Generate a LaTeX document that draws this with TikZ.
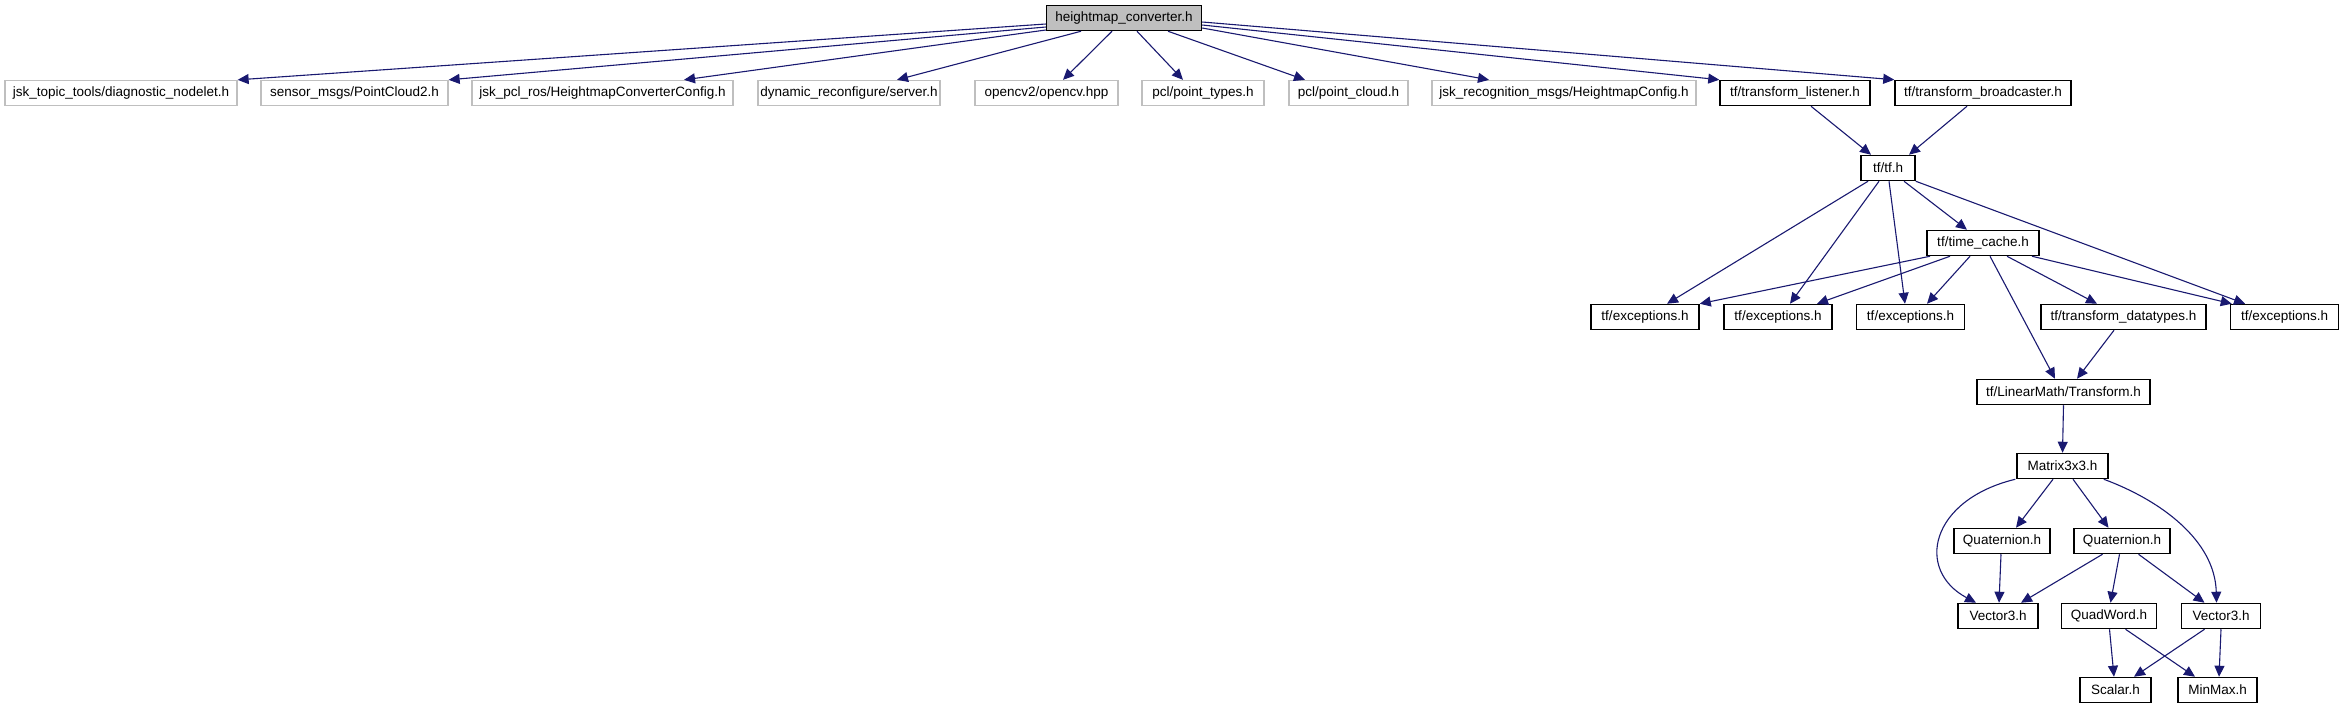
\documentclass[tikz,border=0pt]{standalone}
\usepackage{fontspec}
\setmainfont{Liberation Sans}
\usetikzlibrary{arrows.meta}
\definecolor{edgec}{HTML}{191970}
\definecolor{extc}{HTML}{BFBFBF}
\definecolor{rootfill}{HTML}{BFBFBF}
\begin{document}
\begin{tikzpicture}[x=1pt,y=-1pt,
  box/.style={draw=black, line width=1.5pt, minimum height=25pt, inner sep=0pt,
    font=\fontsize{13.5}{16}\selectfont, anchor=center},
  ext/.style={box, draw=extc, line width=1.3pt},
  rootbox/.style={box, fill=rootfill},
  edge/.style={draw=edgec, line width=1.1pt, -{Triangle[length=11pt,width=10pt]}}]
\useasboundingbox (0,0) rectangle (2340,709);
% row 0
\node[rootbox, minimum width=155pt] (root) at (1124,18) {heightmap\_converter.h};
% row 1
\node[ext, minimum width=232pt] (diag) at (121,93) {jsk\_topic\_tools/diagnostic\_nodelet.h};
\node[ext, minimum width=187pt] (sensor) at (354.5,93) {sensor\_msgs/PointCloud2.h};
\node[ext, minimum width=261pt] (hmcc) at (602.5,93) {jsk\_pcl\_ros/HeightmapConverterConfig.h};
\node[ext, minimum width=182pt] (dyn) at (849,93) {dynamic\_reconfigure/server.h};
\node[ext, minimum width=143pt] (opencv) at (1046.5,93) {opencv2/opencv.hpp};
\node[ext, minimum width=122pt] (ptypes) at (1203,93) {pcl/point\_types.h};
\node[ext, minimum width=119pt] (pcloud) at (1348.5,93) {pcl/point\_cloud.h};
\node[ext, minimum width=264pt] (hmc) at (1564,93) {jsk\_recognition\_msgs/HeightmapConfig.h};
\node[box, minimum width=150pt] (listener) at (1795,93) {tf/transform\_listener.h};
\node[box, minimum width=176pt] (bcast) at (1983,93) {tf/transform\_broadcaster.h};
% row 2
\node[box, minimum width=54pt] (tfh) at (1888,168) {tf/tf.h};
% row 3
\node[box, minimum width=112pt] (tc) at (1983,243) {tf/time\_cache.h};
% row 4
\node[box, minimum width=108pt] (exa) at (1645,317) {tf/exceptions.h};
\node[box, minimum width=108pt] (exb) at (1778,317) {tf/exceptions.h};
\node[box, minimum width=108pt] (exc) at (1910.5,317) {tf/exceptions.h};
\node[box, minimum width=165pt] (tdt) at (2123.5,317) {tf/transform\_datatypes.h};
\node[box, minimum width=108pt] (exd) at (2284.5,317) {tf/exceptions.h};
% row 5
\node[box, minimum width=173pt] (trf) at (2063.5,392) {tf/LinearMath/Transform.h};
% row 6
\node[box, minimum width=91pt] (mat) at (2062.5,466) {Matrix3x3.h};
% row 7
\node[box, minimum width=96pt] (qa) at (2002,541) {Quaternion.h};
\node[box, minimum width=96pt] (qb) at (2122,541) {Quaternion.h};
% row 8
\node[box, minimum width=80pt] (va) at (1998,616) {Vector3.h};
\node[box, minimum width=95pt] (qw) at (2109,616) {QuadWord.h};
\node[box, minimum width=79pt] (vb) at (2221,616) {Vector3.h};
% row 9
\node[box, minimum width=71pt] (sc) at (2115.5,690) {Scalar.h};
\node[box, minimum width=79pt] (mm) at (2217.5,690) {MinMax.h};

% edges from root
\draw[edge] ([yshift=-6pt]root.west) -- (diag.north east);
\draw[edge] ([yshift=-9pt]root.west) -- (sensor.north east);
\draw[edge] ([yshift=-12pt]root.west) -- ([xshift=81.5pt]hmcc.north);
\draw[edge] ([xshift=-43pt]root.south) -- ([xshift=48pt]dyn.north);
\draw[edge] ([xshift=-12pt]root.south) -- ([xshift=16.5pt]opencv.north);
\draw[edge] ([xshift=13pt]root.south) -- ([xshift=-20pt]ptypes.north);
\draw[edge] ([xshift=44pt]root.south) -- ([xshift=-43.5pt]pcloud.north);
\draw[edge] ([yshift=-10pt]root.east) -- ([xshift=-75pt]hmc.north);
\draw[edge] ([yshift=-7pt]root.east) -- (listener.north west);
\draw[edge] ([yshift=-4pt]root.east) -- (bcast.north west);
% tf
\draw[edge] ([xshift=16pt]listener.south) -- ([xshift=-17pt]tfh.north);
\draw[edge] ([xshift=-16pt]bcast.south) -- ([xshift=21pt]tfh.north);
\draw[edge] ([xshift=-20pt]tfh.south) -- ([xshift=22pt]exa.north);
\draw[edge] ([xshift=-9pt]tfh.south) -- ([xshift=12pt]exb.north);
\draw[edge] ([xshift=1pt]tfh.south) -- ([xshift=-5.5pt]exc.north);
\draw[edge] ([xshift=16pt]tfh.south) -- ([xshift=-16pt]tc.north);
\draw[edge] (tfh.south east) -- ([xshift=-39.5pt]exd.north);
\draw[edge] ([xshift=-53pt]tc.south) -- (exa.north east);
\draw[edge] ([xshift=-33pt]tc.south) -- ([xshift=39pt]exb.north);
\draw[edge] ([xshift=-13pt]tc.south) -- ([xshift=16.5pt]exc.north);
\draw[edge] ([xshift=7pt]tc.south) -- ([xshift=-8.5pt]trf.north);
\draw[edge] ([xshift=24pt]tc.south) -- ([xshift=-26.5pt]tdt.north);
\draw[edge] ([xshift=49pt]tc.south) -- ([xshift=2pt]exd.north west);
\draw[edge] ([xshift=-9.5pt]tdt.south) -- ([xshift=13.5pt]trf.north);
\draw[edge] (trf.south) -- (mat.north);
% matrix
\draw[edge] ([xshift=-1pt]mat.south west) .. controls (1930,500) and (1915,570) .. ([xshift=-22pt]va.north);
\draw[edge] ([xshift=-9.5pt]mat.south) -- ([xshift=14pt]qa.north);
\draw[edge] ([xshift=10.5pt]mat.south) -- ([xshift=-13.5pt]qb.north);
\draw[edge] ([xshift=-5pt]mat.south east) .. controls (2160,500) and (2215,540) .. ([xshift=-4.5pt]vb.north);
\draw[edge] ([xshift=-1pt]qa.south) -- ([xshift=1pt]va.north);
\draw[edge] ([xshift=-19.5pt]qb.south) -- ([xshift=23pt]va.north);
\draw[edge] ([xshift=-2.5pt]qb.south) -- ([xshift=1.5pt]qw.north);
\draw[edge] ([xshift=16.5pt]qb.south) -- ([xshift=-16.5pt]vb.north);
\draw[edge] ([xshift=0.5pt]qw.south) -- ([xshift=-1.5pt]sc.north);
\draw[edge] ([xshift=16.5pt]qw.south) -- ([xshift=-22.5pt]mm.north);
\draw[edge] ([xshift=-16.5pt]vb.south) -- ([xshift=18.5pt]sc.north);
\draw[edge] (vb.south) -- ([xshift=1.5pt]mm.north);
\end{tikzpicture}
\end{document}
